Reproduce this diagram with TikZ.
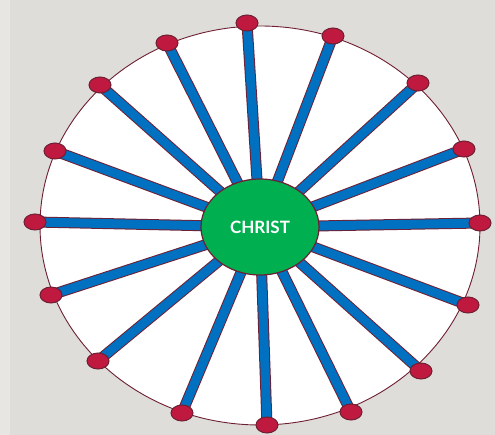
\documentclass[tikz,border=0pt]{standalone}
\usepackage{fontspec}
\setmainfont{Lato}
\usepackage{xcolor}
\usepackage{tikz}
\usetikzlibrary{shapes.geometric,backgrounds}

\definecolor{bggray}{HTML}{DFDDD9}
\definecolor{bgstrip}{HTML}{E8E6E2}
\definecolor{rimmaroon}{HTML}{6E1F33}
\definecolor{spokeblue}{HTML}{0070C0}
\definecolor{dotred}{HTML}{C0193F}
\definecolor{hubgreen}{HTML}{00B050}

\begin{document}
\begin{tikzpicture}[
    x=1pt, y=-1pt,
    hub/.style={ellipse, draw=rimmaroon, line width=1.2pt, fill=hubgreen, minimum width=118pt, minimum height=96pt, inner sep=0pt, text=white, font=\bfseries\fontsize{17}{19}\selectfont},
    dot/.style={ellipse, draw=rimmaroon, line width=1pt, fill=dotred, minimum width=22pt, minimum height=16pt, inner sep=0pt},
    spoke/.style={draw=rimmaroon, line width=1pt, double=spokeblue, double distance=9pt}
  ]
    \useasboundingbox (0,0) rectangle (495,435);
    \node[hub] (hub) at (260,227) {CHRIST};
    % rim points
    \foreach \i/\px/\py in {1/247/23, 2/333/36, 3/418/83, 4/464/149, 5/480/223, 6/468/305, 7/421/371, 8/351/412,
                            9/267/425, 10/182/413, 11/98/361, 12/51/295, 13/35/222, 14/55/151, 15/100/85, 16/167/43}
      \node[dot] (d\i) at (\px,\py) {};
    \begin{scope}[on background layer]
      \fill[bggray] (0,0) rectangle (495,435);
      \fill[bgstrip] (0,0) rectangle (10,435);
      \draw[rimmaroon, fill=white, line width=0.9pt] (260,225.5) ellipse (220 and 199.5);
      \foreach \i in {1,...,16}
        \draw[spoke] (hub.center) -- (d\i.center);
    \end{scope}
  \end{tikzpicture}
\end{document}
